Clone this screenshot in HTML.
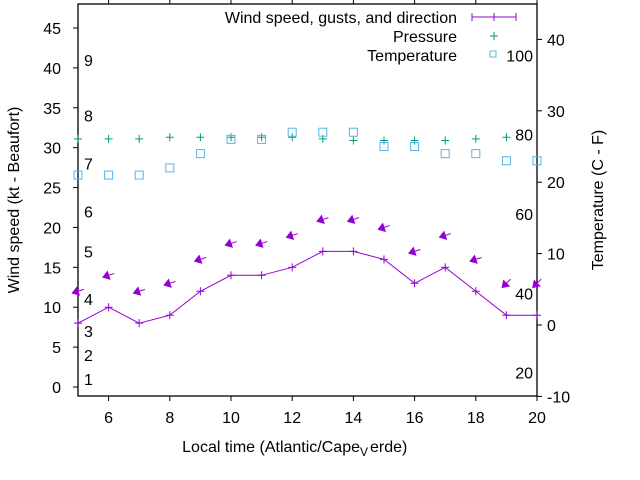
<!DOCTYPE html>
<html><head><meta charset="utf-8"><style>
html,body{margin:0;padding:0;background:#fff}
svg{display:block;font-family:"Liberation Sans",sans-serif;font-size:16px}
</style></head><body>
<svg id="chart" width="640" height="480" xmlns="http://www.w3.org/2000/svg"></svg>
<script>
const hours=[5,6,7,8,9,10,11,12,13,14,15,16,17,18,19,20];
const windSpeed=[8,10,8,9,12,14,14,15,17,17,16,13,15,12,9,9];
const gusts=[12,14,12,13,16,18,18,19,21,21,20,17,19,16,13,13];
const windDir=[72,72,72,72,72,72,72,72,72,72,72,72,72,72,45,45];
const pressure=[31.1,31.1,31.1,31.3,31.3,31.3,31.3,31.3,31.1,30.9,30.9,30.9,30.9,31.1,31.3];
const tempC=[21,21,21,22,24,26,26,27,27,27,25,25,24,24,23,23];
const leftTicks=[0,5,10,15,20,25,30,35,40,45];
const xTicks=[6,8,10,12,14,16,18,20];
const rightTicks=[-10,0,10,20,30,40];
const fTicks=[20,40,60,80,100];
const beaufort=[[1,1],[4,2],[7,3],[11,4],[17,5],[22,6],[28,7],[34,8],[41,9]];

const L=78,R=537,T=4,B=396;
const xs=h=>L+(h-5)*(R-L)/15;
const yl=v=>387-v*7.978;
const yr=c=>325-c*7.14;
const svg=document.getElementById('chart');
const NS='http://www.w3.org/2000/svg';
function mk(tag,attrs,parent){const e=document.createElementNS(NS,tag);for(const k in attrs)e.setAttribute(k,attrs[k]);(parent||svg).appendChild(e);return e;}
function txt(x,y,s,anchor,parent){const t=mk('text',{x:x,y:y,'text-anchor':anchor||'middle',fill:'#000'},parent);t.textContent=s;return t;}

const frame=mk('rect',{x:L,y:T,width:R-L,height:B-T,fill:'none',stroke:'#000','stroke-width':1.3});



const gxa=mk('g',{});


xTicks.forEach(h=>{
  mk('line',{x1:xs(h),x2:xs(h),y1:B,y2:B+5,stroke:'#000'},gxa);
  mk('line',{x1:xs(h),x2:xs(h),y1:T,y2:T-5,stroke:'#000'},gxa);
  const t=txt(xs(h),423,String(h),'middle',gxa);
  
  
});
const gyl=mk('g',{});


leftTicks.forEach(v=>{
  mk('line',{x1:L-5,x2:L,y1:yl(v),y2:yl(v),stroke:'#000'},gyl);
  const t=txt(61,yl(v)+6,String(v),'end',gyl);
  
  
});
beaufort.forEach(b=>{
  const t=txt(84,yl(b[0])+6,String(b[1]),'start',gyl);
  
  
});
const gyr=mk('g',{});


rightTicks.forEach(c=>{
  mk('line',{x1:R,x2:R+5,y1:yr(c),y2:yr(c),stroke:'#000'},gyr);
  const t=txt(547,yr(c)+6,String(c),'start',gyr);
  
  
});
fTicks.forEach(f=>{
  const t=txt(533,yr((f-32)/1.8)+6,String(f),'end',gyr);
  
  
});

let t=txt(360,452,'Local time (Atlantic/Cape','end');


const sub=txt(360,456,'V','start');sub.setAttribute('font-size','12');


const t2=txt(370,452,'erde)','start');


t=txt(0,0,'Wind speed (kt - Beaufort)');t.setAttribute('transform','translate(19,200) rotate(-90)');


t=txt(0,0,'Temperature (C - F)');t.setAttribute('transform','translate(603,200) rotate(-90)');



const pts=hours.map((h,i)=>xs(h)+','+yl(windSpeed[i])).join(' ');
const wl=mk('polyline',{points:pts,fill:'none',stroke:'#9400d3','stroke-width':1});


hours.forEach((h,i)=>{
  const p=mk('path',{d:`M${xs(h)-4},${yl(windSpeed[i])}h8M${xs(h)},${yl(windSpeed[i])-4}v8`,stroke:'#9400d3'});
  
  
});
hours.forEach((h,i)=>{
  const a=windDir[i]*Math.PI/180, len=12;
  const dx=Math.sin(a)*len, dy=-Math.cos(a)*len;
  const cx=xs(h), cy=yl(gusts[i]);
  const x1=cx+dx/2,y1=cy+dy/2,x2=cx-dx/2,y2=cy-dy/2;
  const g=mk('g',{});
  
  
  mk('line',{x1:x1,y1:y1,x2:x2,y2:y2,stroke:'#9400d3'},g);
  const ux=-dx/len,uy=-dy/len, px=-uy,py=ux;
  const hx=x2-ux*6,hy=y2-uy*6;
  mk('polygon',{points:`${x2},${y2} ${hx+px*4},${hy+py*4} ${hx-px*4},${hy-py*4}`,fill:'#9400d3',stroke:'#9400d3'},g);
});
pressure.forEach((p,i)=>{
  const x=xs(hours[i]),y=yl(p);
  const e=mk('path',{d:`M${x-4},${y}h8M${x},${y-4}v8`,stroke:'#009e73'});
  
  
});
tempC.forEach((c,i)=>{
  const e=mk('rect',{x:xs(hours[i])-4,y:yr(c)-4,width:8,height:8,fill:'none',stroke:'#56b4e9'});
  
  
});
const lg=mk('g',{});


txt(457,23,'Wind speed, gusts, and direction','end',lg);
mk('path',{d:'M472,17h44M472,13v8M494,13v8M516,13v8',stroke:'#9400d3'},lg);
txt(457,42,'Pressure','end',lg);
mk('path',{d:'M490,36h8M494,32v8',stroke:'#009e73'},lg);
txt(457,61,'Temperature','end',lg);
mk('rect',{x:490,y:51,width:6,height:6,fill:'none',stroke:'#56b4e9'},lg);
</script>
</body></html>
